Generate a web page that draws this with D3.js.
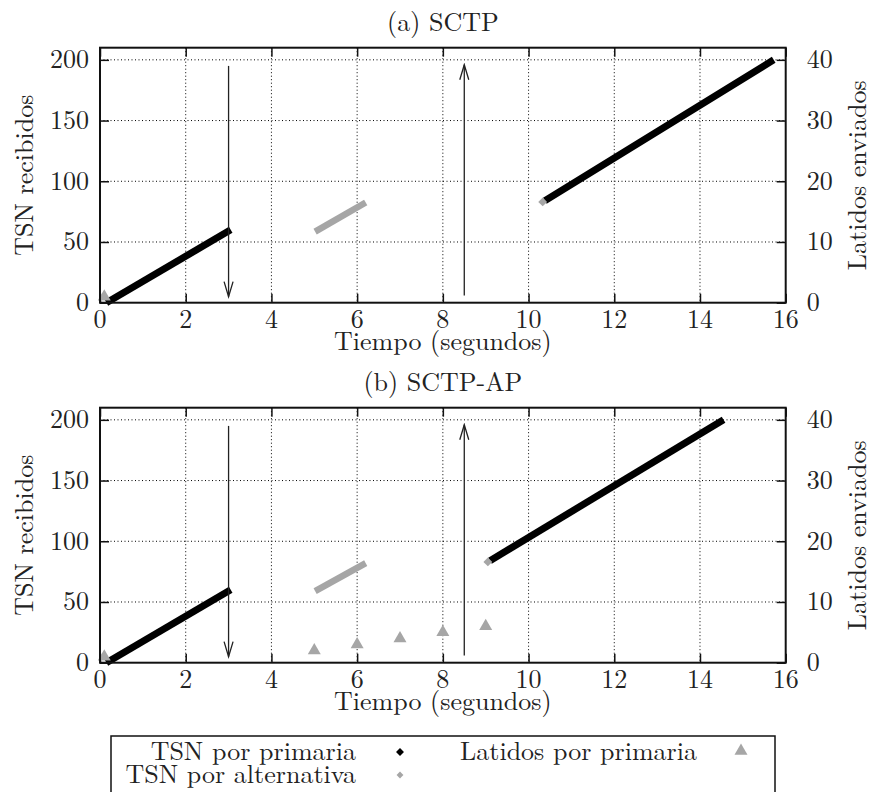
<!DOCTYPE html>
<html>
<head>
<meta charset="utf-8">
<script src="https://cdn.jsdelivr.net/npm/d3@7"></script>
<style>
  html, body { margin: 0; padding: 0; background: #fff; }
</style>
</head>
<body>
<svg id="chart" width="869" height="792"></svg>
<script>
// ---- data ----
const panelTitles = ["(a) SCTP", "(b) SCTP-AP"];
const xTicks = [0, 2, 4, 6, 8, 10, 12, 14, 16];
const yTicks = [0, 50, 100, 150, 200];
const y2Ticks = [0, 10, 20, 30, 40];

// TSN received on the primary path: each entry is one run [start, end] as [time, tsn]
const tsnPrimariaA = [[[0.15, 0], [3.05, 60]], [[10.38, 84], [15.72, 200]]];
const tsnPrimariaB = [[[0.15, 0], [3.05, 60]], [[9.1, 84], [14.55, 200]]];
// TSN received on the alternate path: runs and isolated points
const tsnAlternativaA = [[[5.02, 58.5], [6.2, 82.5]]];
const tsnAlternativaPuntosA = [[10.33, 83]];
const tsnAlternativaB = [[[5.02, 59], [6.2, 82]]];
const tsnAlternativaPuntosB = [[9.05, 83]];
// heartbeats sent on the primary path [time, count] (right axis)
const latidosA = [[0.1, 1]];
const latidosB = [[0.1, 1], [5, 2], [6, 3], [7, 4], [8, 5], [9, 6]];
// failure / recovery marks [time, tsn from, tsn to]
const flechas = [[3.0, 195, 5], [8.5, 6, 196]];

const panels = [
  { title: panelTitles[0], prim: tsnPrimariaA, alt: tsnAlternativaA, altPts: tsnAlternativaPuntosA, lat: latidosA },
  { title: panelTitles[1], prim: tsnPrimariaB, alt: tsnAlternativaB, altPts: tsnAlternativaPuntosB, lat: latidosB }
];

// ---- layout ----
const FONT = '"Latin Modern Roman", "Liberation Serif", serif';
const svg = d3.select("#chart");
const left = 100, right = 785.7, plotH = 255;
const panelTop = [47.7, 407.7];
const FS = 26;
const GRAY = "#a6a6a6";
const INK = "#222";

function label(sel) {
  return sel.style("font-family", FONT).style("font-size", FS + "px").attr("fill", INK);
}

const x = d3.scaleLinear().domain([0, 16]).range([left, right]);

const defs = svg.append("defs");
defs.append("marker")
  .attr("id", "head").attr("viewBox", "-16 -6 18 12")
  .attr("refX", 0).attr("refY", 0)
  .attr("markerWidth", 18).attr("markerHeight", 12)
  .attr("markerUnits", "userSpaceOnUse").attr("orient", "auto")
  .append("path").attr("d", "M-15,-4.5 L0,0 L-15,4.5")
  .attr("fill", "none").attr("stroke", INK).attr("stroke-width", 1.3);

panels.forEach((p, i) => {
  const top = panelTop[i], bottom = top + plotH;
  const y = d3.scaleLinear().domain([0, 210]).range([bottom, top]);
  const y2 = d3.scaleLinear().domain([0, 42]).range([bottom, top]);
  const g = svg.append("g");

  // grid
  g.append("g").selectAll("line").data(xTicks.filter(d => d > 0 && d < 16)).join("line")
    .attr("x1", d => x(d)).attr("x2", d => x(d)).attr("y1", top).attr("y2", bottom)
    .attr("stroke", "#000").attr("stroke-width", 1).attr("stroke-dasharray", "1,2.5");
  g.append("g").selectAll("line").data(yTicks.filter(d => d > 0)).join("line")
    .attr("x1", left).attr("x2", right).attr("y1", d => y(d)).attr("y2", d => y(d))
    .attr("stroke", "#000").attr("stroke-width", 1).attr("stroke-dasharray", "1,2.5");

  // axes (ticks pointing inward, mirrored)
  const axB = g.append("g").attr("transform", `translate(0,${bottom})`)
    .call(d3.axisTop(x).tickValues(xTicks).tickSize(9).tickFormat(""));
  const axT = g.append("g").attr("transform", `translate(0,${top})`)
    .call(d3.axisBottom(x).tickValues(xTicks).tickSize(9).tickFormat(""));
  const axL = g.append("g").attr("transform", `translate(${left},0)`)
    .call(d3.axisRight(y).tickValues(yTicks).tickSize(9).tickFormat(""));
  const axR = g.append("g").attr("transform", `translate(${right},0)`)
    .call(d3.axisLeft(y2).tickValues(y2Ticks).tickSize(9).tickFormat(""));
  [axB, axT, axL, axR].forEach(a => {
    a.select(".domain").remove();
    a.selectAll("line").attr("stroke", "#111").attr("stroke-width", 1.5);
  });

  // tick labels
  g.append("g").selectAll("text").data(xTicks).join("text")
    .attr("x", d => x(d)).attr("y", bottom + 25.5)
    .attr("text-anchor", "middle").call(label)
    .text(d => d);
  g.append("g").selectAll("text").data(yTicks).join("text")
    .attr("x", left - 11).attr("y", d => y(d) + 8.4)
    .attr("text-anchor", "end").call(label)
    .text(d => d);
  g.append("g").selectAll("text").data(y2Ticks).join("text")
    .attr("x", right + 21).attr("y", d => y2(d) + 8.4)
    .attr("text-anchor", "start").call(label)
    .text(d => d);

  // titles
  g.append("text").attr("x", (left + right) / 2).attr("y", top - 16.7)
    .attr("text-anchor", "middle").call(label).text(p.title);
  g.append("text").attr("x", (left + right) / 2).attr("y", bottom + 47.5)
    .attr("text-anchor", "middle").call(label).text("Tiempo (segundos)");
  g.append("text").attr("transform", `translate(33,${(top + bottom) / 2}) rotate(-90)`)
    .attr("text-anchor", "middle").call(label).text("TSN recibidos");
  g.append("text").attr("transform", `translate(866,${(top + bottom) / 2}) rotate(-90)`)
    .attr("text-anchor", "middle").call(label).text("Latidos enviados");

  const line = d3.line().x(d => x(d[0])).y(d => y(d[1]));

  // alternate path TSN
  g.append("g").selectAll("path").data(p.alt).join("path")
    .attr("d", line).attr("stroke", GRAY).attr("stroke-width", 6.5).attr("fill", "none");

  // primary path TSN
  g.append("g").selectAll("path").data(p.prim).join("path")
    .attr("d", line).attr("stroke", "#000").attr("stroke-width", 7).attr("fill", "none");

  g.append("g").selectAll("path").data(p.altPts).join("path")
    .attr("transform", d => `translate(${x(d[0])},${y(d[1])})`)
    .attr("d", d3.symbol(d3.symbolDiamond2, 50)).attr("fill", GRAY);

  // heartbeats
  g.append("g").selectAll("path").data(p.lat).join("path")
    .attr("transform", d => `translate(${x(d[0])},${y2(d[1])})`)
    .attr("d", d3.symbol(d3.symbolTriangle, 73)).attr("fill", GRAY);

  // arrows
  g.append("g").selectAll("line").data(flechas).join("line")
    .attr("x1", d => x(d[0])).attr("x2", d => x(d[0]))
    .attr("y1", d => y(d[1])).attr("y2", d => y(d[2]))
    .attr("stroke", INK).attr("stroke-width", 1.3).attr("marker-end", "url(#head)");

  // frame
  g.append("rect").attr("x", left).attr("y", top).attr("width", right - left).attr("height", plotH)
    .attr("fill", "none").attr("stroke", "#111").attr("stroke-width", 2);
});

// ---- legend ----
const leg = svg.append("g");
leg.append("rect").attr("x", 111).attr("y", 736).attr("width", 664).attr("height", 62)
  .attr("fill", "none").attr("stroke", "#111").attr("stroke-width", 1.5);
const legendItems = [
  { label: "TSN por primaria", tx: 356, ty: 760, mx: 400, my: 752, kind: "diamond", color: "#000", size: 40 },
  { label: "TSN por alternativa", tx: 356, ty: 783, mx: 400, my: 775, kind: "diamond", color: GRAY, size: 30 },
  { label: "Latidos por primaria", tx: 697, ty: 760, mx: 741, my: 751, kind: "triangle", color: GRAY, size: 73 }
];
leg.selectAll("text").data(legendItems).join("text")
  .attr("x", d => d.tx).attr("y", d => d.ty).attr("text-anchor", "end")
  .call(label).text(d => d.label);
leg.selectAll("path").data(legendItems).join("path")
  .attr("transform", d => `translate(${d.mx},${d.my})`)
  .attr("d", d => d3.symbol(d.kind === "diamond" ? d3.symbolDiamond2 : d3.symbolTriangle, d.size)())
  .attr("fill", d => d.color);
</script>
</body>
</html>
